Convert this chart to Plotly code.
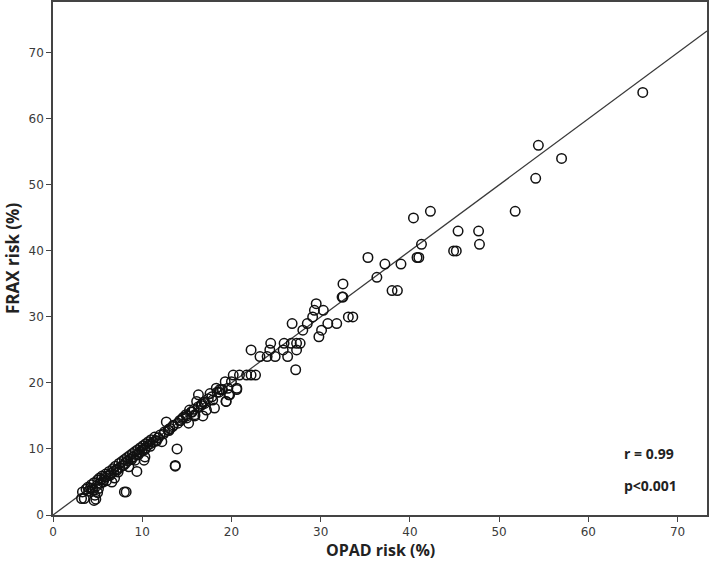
import plotly.graph_objects as go

# Low range (OPAD < 12)
opad_low = [3.2, 3.5, 3.3, 3.7, 4.0, 4.2, 4.5, 4.6, 4.8, 4.7, 5.0, 4.9, 5.1, 5.3, 5.6, 5.4,
            5.8, 6.0, 6.2, 6.5, 6.6, 6.9, 6.8, 7.1, 7.3, 7.5, 7.8, 8.0, 8.2, 8.1, 8.5, 8.4,
            8.7, 9.0, 9.2, 9.4, 9.4, 9.7, 10.0, 10.2, 10.3, 10.6, 10.9, 11.2, 11.5, 11.8,
            3.9, 4.3, 4.6, 5.0, 5.2, 5.5, 5.9, 6.3, 6.7, 7.0, 7.4, 7.7, 8.0, 8.3, 8.6, 8.9,
            9.2, 9.5, 9.8, 10.1, 10.4, 10.7, 11.0, 11.4, 4.4, 5.7, 6.4, 7.2, 7.9, 8.8, 9.6,
            10.3, 10.9, 11.6]
frax_low = [2.5, 2.5, 3.5, 3.9, 3.6, 4.1, 3.8, 2.2, 2.4, 3.0, 3.4, 4.4, 4.0, 4.8, 5.0, 5.4,
            5.7, 5.2, 6.0, 6.3, 5.0, 5.6, 6.6, 6.9, 6.5, 7.2, 7.5, 3.5, 3.5, 7.8, 7.3, 8.2,
            8.5, 8.8, 8.3, 6.6, 9.1, 9.5, 9.8, 8.3, 10.1, 10.5, 10.8, 11.0, 11.3, 11.7,
            4.2, 4.6, 4.9, 5.3, 5.6, 5.9, 6.2, 6.6, 7.0, 7.4, 7.8, 8.1, 8.4, 8.7, 9.0, 9.3,
            9.6, 9.9, 10.2, 10.5, 10.8, 11.1, 11.4, 11.8, 4.0, 5.3, 6.0, 6.8, 7.5, 8.4, 9.2,
            9.9, 10.4, 11.2]

# Middle range (OPAD 12 - 23)
opad_mid = [12.0, 12.2, 12.4, 12.7, 13.0, 13.1, 13.4, 13.7, 13.9, 14.0, 14.3, 14.6, 14.9,
            15.0, 15.2, 15.3, 15.6, 15.9, 16.1, 16.3, 16.3, 16.6, 17.0, 17.2, 17.6, 17.9,
            18.1, 18.3, 18.6, 18.7, 19.0, 19.3, 19.4, 19.6, 19.7, 20.0, 20.2, 20.6, 20.6,
            20.9, 21.7, 22.2, 22.7, 12.9, 14.5, 15.8, 16.9, 17.4, 18.4, 12.5, 13.5, 14.2,
            15.5, 16.7, 17.8, 18.9, 10.3, 13.7, 15.0, 15.9, 16.8, 19.4, 19.8]
frax_mid = [12.1, 11.1, 12.3, 14.1, 12.8, 13.1, 13.4, 7.4, 10.0, 13.9, 14.3, 14.8, 15.2,
            14.7, 13.9, 15.9, 15.6, 15.2, 17.2, 16.4, 18.2, 16.6, 16.9, 15.9, 18.4, 17.4,
            16.2, 19.2, 18.6, 19.0, 19.0, 20.2, 17.2, 19.2, 18.2, 20.2, 21.2, 19.0, 19.2,
            21.2, 21.2, 21.2, 21.2, 12.9, 14.6, 16.0, 17.1, 17.6, 18.6, 12.6, 13.6, 14.3,
            15.6, 16.8, 17.9, 19.0, 8.8, 7.5, 15.0, 15.0, 15.0, 17.2, 18.2]

# Upper range (OPAD > 22)
opad_high = [22.2, 23.2, 24.0, 24.9, 26.3, 24.3, 25.8, 27.3, 24.4, 25.9, 26.7, 27.3, 27.7,
             27.2, 29.8, 28.0, 30.1, 26.8, 28.5, 30.8, 31.8, 29.1, 33.1, 33.6, 29.3, 30.3,
             29.5, 32.4, 32.5, 32.5, 38.0, 38.6, 36.3, 37.2, 39.0, 35.3, 40.8, 41.0, 44.9,
             45.2, 41.3, 47.8, 45.4, 47.7, 40.4, 42.3, 51.8, 54.1, 57.0, 54.4, 66.1]
frax_high = [25.0, 24.0, 24.0, 24.0, 24.0, 25.0, 25.0, 25.0, 26.0, 26.0, 26.0, 26.0, 26.0,
             22.0, 27.0, 28.0, 28.0, 29.0, 29.0, 29.0, 29.0, 30.0, 30.0, 30.0, 31.0, 31.0,
             32.0, 33.0, 33.0, 35.0, 34.0, 34.0, 36.0, 38.0, 38.0, 39.0, 39.0, 39.0, 40.0,
             40.0, 41.0, 41.0, 43.0, 43.0, 45.0, 46.0, 46.0, 51.0, 54.0, 56.0, 64.0]

# Reference line (identity / fit)
fit_slope = 1.0
fit_intercept = 0.0
x_max = 73.3
y_max = 77.7

x_tick_vals = [0, 10, 20, 30, 40, 50, 60, 70]
y_tick_vals = [0, 10, 20, 30, 40, 50, 60, 70]

opad = opad_low + opad_mid + opad_high
frax = frax_low + frax_mid + frax_high

W, H = 709, 561
ML, MR, MT, MB = 53, 2, 2, 46
plot_w = W - ML - MR
plot_h = H - MT - MB


def px_to_paper(px, py):
    return (px - ML) / plot_w, (H - MB - py) / plot_h


fig = go.Figure()
fig.add_trace(go.Scatter(
    x=[0, x_max], y=[fit_intercept, fit_intercept + fit_slope * x_max],
    mode="lines", line=dict(color="#3a3a3a", width=1.3), hoverinfo="skip",
    showlegend=False))
fig.add_trace(go.Scatter(
    x=opad, y=frax, mode="markers",
    marker=dict(symbol="circle-open", size=9.5, color="#111111", line=dict(width=1.5, color="#111111")),
    showlegend=False, cliponaxis=False))

axis_common = dict(
    showgrid=False, zeroline=False, showline=True, linecolor="#444444", linewidth=1.5,
    mirror=True, ticks="outside", ticklen=5, tickwidth=1.3, tickcolor="#444444",
    tickfont=dict(family="DejaVu Sans", size=12, color="#3a3a3a"), automargin=False,
)
fig.update_xaxes(range=[0, x_max], tickvals=x_tick_vals, **axis_common)
fig.update_yaxes(range=[0, y_max], tickvals=y_tick_vals, **axis_common)

xt = px_to_paper(380, 550)
fig.add_annotation(x=xt[0], y=xt[1], xref="paper", yref="paper", text="<b>OPAD risk (%)</b>",
                   showarrow=False, xanchor="center", yanchor="middle", borderpad=0,
                   font=dict(family="Open Sans", size=16, color="#222222"))
yt = px_to_paper(12, 259)
fig.add_annotation(x=yt[0], y=yt[1], xref="paper", yref="paper", text="<b>FRAX risk (%)</b>",
                   showarrow=False, xanchor="center", yanchor="middle", textangle=-90, borderpad=0,
                   font=dict(family="Open Sans", size=17, color="#222222"))

ann_font = dict(family="Open Sans", size=14, color="#222222")
for label, py in [("<b>r = 0.99</b>", 453), ("<b>p<0.001</b>", 485)]:
    ax, ay = px_to_paper(622, py)
    fig.add_annotation(x=ax, y=ay, xref="paper", yref="paper", text=label, showarrow=False,
                       xanchor="left", yanchor="middle", font=ann_font)

fig.update_layout(
    width=W, height=H,
    margin=dict(l=ML, r=MR, t=MT, b=MB),
    plot_bgcolor="white", paper_bgcolor="white",
)

fig.write_html("out.html", config={"displayModeBar": False},
               post_script="document.body.style.margin='0px';document.body.style.overflow='hidden';")
